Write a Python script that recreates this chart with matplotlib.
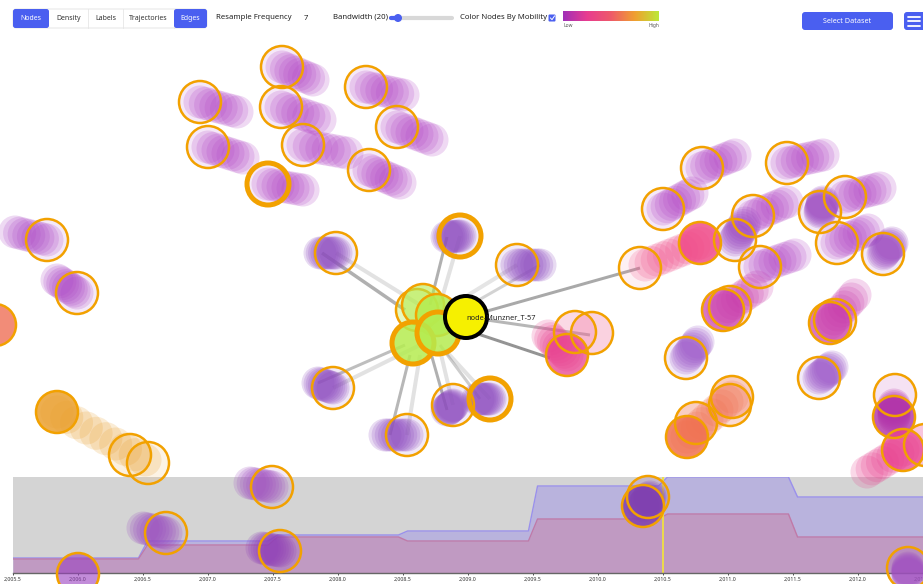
import numpy as np
import matplotlib.pyplot as plt
from matplotlib.patches import Circle, FancyBboxPatch, Rectangle
from matplotlib.colors import LinearSegmentedColormap

plt.rcParams['font.family'] = ['Noto Sans', 'DejaVu Sans']

W, H = 923, 584

# ---- timeline data (active nodes per period) ----
step_years = [2005.5, 2006.5, 2007.5, 2008.5, 2009.5, 2010.5, 2011.5, 2012.5]
lower_vals = [14, 28, 36, 32, 54, 59, 36]
upper_vals = [15, 32, 38, 42, 87, 96, 76]
current_year = 2010.5
tick_years = np.arange(2005.5, 2012.6, 0.5)

# ---- nodes: position, trail end, colour, fill alpha, ring width ----
node_x = [282, 200, 281, 366, 397, 208, 303, 369, 268,
          47, 77, -5,
          702, 787, 663, 845, 820, 753, 735, 760, 837, 883,
          640, 700, 730, 723, 835, 830, 686, 819,
          696, 732, 730, 687, 895, 894, 925, 903,
          336, 460, 517, 333, 453, 490, 407,
          575, 592, 567,
          130, 148, 57,
          272, 166, 280, 78, 648, 643, 908]
node_y = [67, 102, 107, 87, 127, 147, 145, 170, 184,
          240, 293, 325,
          168, 163, 209, 197, 212, 216, 240, 267, 243, 254,
          268, 243, 307, 310, 320, 323, 358, 378,
          423, 397, 405, 437, 395, 417, 445, 450,
          253, 236, 265, 388, 405, 399, 435,
          332, 333, 355,
          455, 463, 412,
          487, 533, 551, 574, 497, 506, 568]
trail_x = [313, 237, 320, 403, 432, 243, 347, 400, 303,
           15, 57, -5,
           735, 823, 692, 880, 823, 787, 745, 795, 868, 892,
           640, 645, 730, 757, 835, 855, 698, 832,
           696, 732, 730, 732, 895, 894, 925, 867,
           320, 447, 540, 318, 447, 478, 385,
           575, 592, 548,
           130, 148, 145,
           250, 143, 262, 78, 648, 650, 908]
trail_y = [80, 112, 120, 95, 140, 158, 153, 183, 190,
           232, 280, 325,
           155, 155, 193, 188, 202, 202, 223, 255, 230, 243,
           268, 265, 307, 287, 320, 295, 342, 367,
           423, 397, 405, 397, 395, 405, 445, 472,
           253, 237, 265, 383, 410, 399, 435,
           332, 333, 336,
           455, 463, 460,
           483, 528, 548, 574, 497, 497, 575]
node_color = (['#b245c6'] * 9 + ['#ac48c6', '#ac48c6', '#f07860'] +
              ['#b245c6', '#b245c6', '#b245c6', '#b245c6', '#9a48c0', '#b245c6',
               '#9a48c0', '#b245c6', '#b245c6', '#9a48c0'] +
              ['#f48aa8', '#f04d8a', '#c83aaa', '#c83aaa', '#c83aaa', '#c83aaa',
               '#9a55c8', '#9a55c8'] +
              ['#f07050', '#f07050', '#f07050', '#f07050', '#c040b0', '#b030a8',
               '#e8408f', '#e8408f'] +
              ['#8e4cc0'] * 7 +
              ['#f06a9a', '#f06a9a', '#e8408f'] +
              ['#eaa030', '#eaa030', '#eaa030'] +
              ['#a050c0', '#9a4cc0', '#9040b8', '#9a40c0', '#8040b0', '#8040b0', '#a050c0'])
fill_alpha = ([0.12] * 9 + [0.12, 0.12, 0.85] +
              [0.12] * 10 +
              [0.12, 0.85, 0.2, 0.7, 0.2, 0.7, 0.12, 0.12] +
              [0.35, 0.35, 0.25, 0.85, 0.15, 0.8, 0.3, 0.75] +
              [0.12] * 7 +
              [0.25, 0.3, 0.75] +
              [0.15, 0.12, 0.85] +
              [0.12, 0.12, 0.2, 0.6, 0.2, 0.85, 0.2])
ring_w = ([2.5] * 8 + [5] + [2.5] * 30 + [5, 2.5, 2.5, 2.5, 5, 2.5] + [2.5] * 13)

# green cluster around the selected node
green_x = [417, 423, 437, 413, 438]
green_y = [310, 305, 315, 343, 333]
green_alpha = [0.35, 0.6, 0.85, 0.85, 0.85]
green_w = [2.5, 2.5, 2.5, 5, 5]
selected_x, selected_y = 466, 317
selected_label = 'node-Munzner_T-57'

# edges: x1, y1, x2, y2, alpha, width(px)
edge_x1 = [405, 420, 430, 440, 470, 460, 466, 466, 466, 405, 420, 430, 440, 440, 445, 410, 420]
edge_y1 = [310, 305, 305, 305, 305, 300, 317, 317, 330, 345, 345, 350, 350, 345, 350, 355, 355]
edge_x2 = [322, 336, 447, 460, 540, 517, 640, 590, 550, 318, 333, 447, 453, 480, 490, 390, 407]
edge_y2 = [253, 253, 237, 236, 265, 265, 268, 335, 358, 383, 388, 410, 405, 399, 399, 435, 435]
edge_a = [0.55, 0.2, 0.55, 0.2, 0.3, 0.18, 0.6, 0.5, 0.75, 0.45, 0.2, 0.55, 0.2, 0.35, 0.2, 0.5, 0.2]
edge_w = [3.5, 4, 3, 4, 3, 4, 3, 3, 3, 3, 4, 3, 4, 3, 4, 3, 4]

PT = 0.72  # points per pixel at 100 dpi

fig = plt.figure(figsize=(W / 100, H / 100), dpi=100)
fig.patch.set_facecolor('white')

# ---- timeline ----
tl = fig.add_axes([13 / W, 11 / H, 910 / W, 96 / H], zorder=1)
tl.set_facecolor('#d4d4d4')
ramp = 0.035
xs, lo, up = [], [], []
for i in range(len(lower_vals)):
    a, b = step_years[i], step_years[i + 1]
    xs += [a + (ramp if i > 0 else 0), b - (ramp if i < len(lower_vals) - 1 else 0)]
    lo += [lower_vals[i]] * 2
    up += [upper_vals[i]] * 2
tl.fill_between(xs, 0, up, color='#b9b3dd', lw=0)
tl.plot(xs, up, color='#9a90ec', lw=1)
tl.fill_between(xs, 0, lo, color='#c09ac2', lw=0)
tl.plot(xs, lo, color='#c07aa8', lw=1)
tl.axvline(current_year, color='#f0e040', lw=1.3)
tl.set_xlim(2005.5, 2005.5 + 910 / 130.6)
tl.set_ylim(0, 96)
tl.set_yticks([])
tl.set_xticks(tick_years)
tl.set_xticklabels([f'{v:,.1f}' for v in tick_years], fontsize=3.8, color='#333')
tl.tick_params(axis='x', length=1.5, width=0.5, pad=1)
for s in ['top', 'right', 'left']:
    tl.spines[s].set_visible(False)
tl.spines['bottom'].set_color('#666')
tl.spines['bottom'].set_linewidth(1)

# ---- node canvas ----
ax = fig.add_axes([0, 0, 1, 1], zorder=2)
ax.set_facecolor('none')
ax.set_xlim(0, W)
ax.set_ylim(H, 0)
ax.axis('off')

for x1, y1, x2, y2, a, w in zip(edge_x1, edge_y1, edge_x2, edge_y2, edge_a, edge_w):
    ax.plot([x1, x2], [y1, y2], color='#707070', alpha=a, lw=w * PT,
            solid_capstyle='butt', zorder=2)

R = 21
for x, y, tx, ty, c, fa, rw in zip(node_x, node_y, trail_x, trail_y,
                                   node_color, fill_alpha, ring_w):
    n = 10 if abs(tx - x) + abs(ty - y) > 60 else 8
    if (tx, ty) != (x, y):
        for k in range(n):
            f = k / (n - 1)
            ax.add_patch(Circle((x + (tx - x) * f, y + (ty - y) * f), 16.5,
                                facecolor=c, alpha=0.2, lw=0, zorder=3))
    ax.add_patch(Circle((x, y), R, facecolor=c, alpha=fa, lw=0, zorder=4))
    ax.add_patch(Circle((x, y), R, facecolor='none', edgecolor='#f2a100',
                        lw=rw * PT, zorder=5))

for x, y, fa, rw in zip(green_x, green_y, green_alpha, green_w):
    ax.add_patch(Circle((x, y), R, facecolor='#b5ec50', alpha=fa, lw=0, zorder=6))
    ax.add_patch(Circle((x, y), R, facecolor='none', edgecolor='#f2a100',
                        lw=rw * PT, zorder=6))

ax.add_patch(Circle((selected_x, selected_y), 21, facecolor='#f6f000',
                    edgecolor='black', lw=4 * PT, zorder=7))
ax.text(selected_x, selected_y + 1, selected_label, fontsize=5.3, color='#222',
        va='center', ha='left', zorder=8)

# ---- toolbar ----
ax.add_patch(Rectangle((0, 0), W, 33, facecolor='white', lw=0, zorder=9))
blue = '#4a5ff0'
buttons = ['Nodes', 'Density', 'Labels', 'Trajectories', 'Edges']
btn_left = [13, 49, 88, 123, 174]
btn_right = [49, 88, 123, 174, 207]
btn_on = [True, False, False, False, True]
ax.add_patch(FancyBboxPatch((13, 9), 194, 19, boxstyle='round,pad=0,rounding_size=3',
                            facecolor='white', edgecolor='#e2e2e2', lw=0.6, zorder=10))
for name, l, r, on in zip(buttons, btn_left, btn_right, btn_on):
    if on:
        ax.add_patch(FancyBboxPatch((l, 9), r - l, 19,
                                    boxstyle='round,pad=0,rounding_size=2.5',
                                    facecolor=blue, lw=0, zorder=11))
    else:
        ax.plot([r, r], [9, 28], color='#e6e6e6', lw=0.6, zorder=11)
    ax.text((l + r) / 2, 18.5, name, fontsize=5, ha='center', va='center',
            color='white' if on else '#333', fontweight='bold' if on else 'normal', zorder=12)

ax.text(216, 17.5, 'Resample Frequency', fontsize=5.6, fontweight='semibold',
        color='#222', va='center', zorder=12)
ax.text(304, 18.5, '7', fontsize=5.5, color='#222', va='center', zorder=12)
ax.text(333, 17.5, 'Bandwidth (20)', fontsize=5.6, fontweight='semibold',
        color='#222', va='center', zorder=12)
ax.plot([391, 452], [18, 18], color='#d8d8d8', lw=3, solid_capstyle='round', zorder=11)
ax.plot([391, 398], [18, 18], color=blue, lw=3, solid_capstyle='round', zorder=12)
ax.add_patch(Circle((398, 18), 4, facecolor=blue, lw=0, zorder=13))
ax.text(460, 17.5, 'Color Nodes By Mobility', fontsize=5.6, fontweight='semibold',
        color='#222', va='center', zorder=12)
ax.add_patch(FancyBboxPatch((548.5, 14.5), 7, 7, boxstyle='round,pad=0,rounding_size=1',
                            facecolor=blue, lw=0, zorder=12))
ax.plot([550.5, 552, 554.5], [18, 19.7, 16], color='white', lw=0.7, zorder=13)

cmap = LinearSegmentedColormap.from_list(
    'mob', ['#a030b8', '#e83c90', '#ee5a6a', '#f0a030', '#bce838'])
ax.imshow(np.linspace(0, 1, 256)[None, :], cmap=cmap, aspect='auto',
          extent=(563, 659, 21, 11), zorder=12)
ax.text(563, 25.5, 'Low', fontsize=3.5, color='#555', va='center', zorder=12)
ax.text(659, 25.5, 'High', fontsize=3.5, color='#555', va='center', ha='right', zorder=12)

ax.add_patch(FancyBboxPatch((802, 12), 91, 18, boxstyle='round,pad=0,rounding_size=3',
                            facecolor=blue, lw=0, zorder=12))
ax.text(847.5, 21.5, 'Select Dataset', fontsize=5.2, fontweight='bold', color='white',
        ha='center', va='center', zorder=13)
ax.add_patch(FancyBboxPatch((904, 12), 22, 18, boxstyle='round,pad=0,rounding_size=3',
                            facecolor=blue, lw=0, zorder=12))
for yy in [16.5, 21, 25.5]:
    ax.plot([908, 920], [yy, yy], color='white', lw=1.3, solid_capstyle='round', zorder=13)

fig.savefig('out.png', dpi=100)
